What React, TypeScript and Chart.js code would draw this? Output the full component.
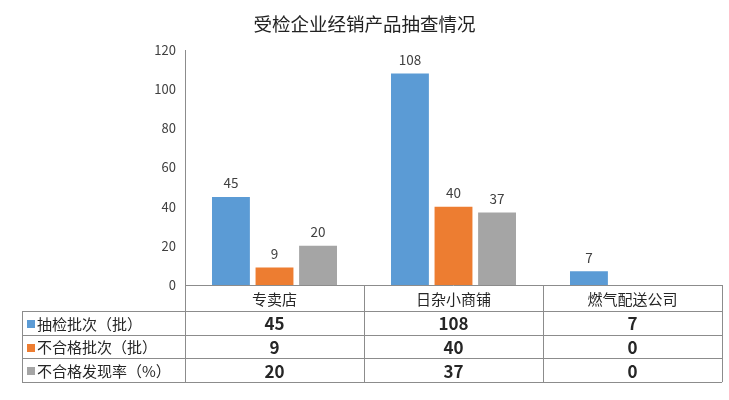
import React, { useEffect, useRef } from 'react';
import { Chart, registerables } from 'chart.js';

Chart.register(...registerables);

const chartTitle = '受检企业经销产品抽查情况';
const categories = ['专卖店', '日杂小商铺', '燃气配送公司'];
const seriesNames = ['抽检批次（批）', '不合格批次（批）', '不合格发现率（%）'];
const sampledBatches = [45, 108, 7];
const failedBatches = [9, 40, 0];
const failRate = [20, 37, 0];
const seriesColors = ['#5B9BD5', '#ED7D31', '#A5A5A5'];
const yMin = 0;
const yMax = 120;
const yStep = 20;

const FONT = '"Noto Sans CJK SC", "Noto Sans", sans-serif';
const LINE = '#8c8c8c';

const crisp = (v: number) => Math.round(v) + 0.5;

const overlayPlugin = {
  id: 'overlayPlugin',
  afterDatasetsDraw(chart: any) {
    const ctx = chart.ctx;
    ctx.save();
    ctx.font = `13.5px ${FONT}`;
    ctx.fillStyle = '#404040';
    ctx.textAlign = 'center';
    ctx.textBaseline = 'bottom';
    chart.data.datasets.forEach((ds: any, di: number) => {
      const meta = chart.getDatasetMeta(di);
      meta.data.forEach((el: any, i: number) => {
        const v = ds.data[i];
        if (!v) return;
        ctx.fillText(String(v), el.x, el.y - 7);
      });
    });
    ctx.restore();
  },
  afterDraw(chart: any) {
    const ctx = chart.ctx;
    const area = chart.chartArea;
    const xs = chart.scales.x;
    const n = categories.length;
    const colW = (area.right - area.left) / n;
    const top = area.bottom;
    const headerH = 26;
    const rowH = 23.7;
    const tableLeft = 22;
    const rowsY = [top, top + headerH];
    for (let r = 1; r <= seriesNames.length; r++) rowsY.push(top + headerH + r * rowH);
    const bottom = rowsY[rowsY.length - 1];

    ctx.save();
    // title
    ctx.fillStyle = '#222222';
    ctx.font = `18.5px ${FONT}`;
    ctx.textAlign = 'center';
    ctx.textBaseline = 'middle';
    ctx.fillText(chartTitle, chart.width / 2, 24);

    // grid lines
    ctx.strokeStyle = LINE;
    ctx.lineWidth = 1;
    ctx.beginPath();
    ctx.moveTo(area.left, crisp(top));
    ctx.lineTo(area.right, crisp(top));
    for (let r = 1; r < rowsY.length; r++) {
      ctx.moveTo(tableLeft, crisp(rowsY[r]));
      ctx.lineTo(area.right, crisp(rowsY[r]));
    }
    ctx.moveTo(crisp(tableLeft), rowsY[1]);
    ctx.lineTo(crisp(tableLeft), bottom);
    for (let i = 0; i <= n; i++) {
      const xb = i < n ? xs.getPixelForValue(i) - colW / 2 : xs.getPixelForValue(n - 1) + colW / 2;
      ctx.moveTo(crisp(xb), top);
      ctx.lineTo(crisp(xb), bottom);
    }
    ctx.stroke();

    // header
    ctx.fillStyle = '#262626';
    ctx.font = `15px ${FONT}`;
    ctx.textAlign = 'center';
    ctx.textBaseline = 'middle';
    categories.forEach((c, i) => {
      ctx.fillText(c, xs.getPixelForValue(i), (rowsY[0] + rowsY[1]) / 2 + 1);
    });

    // rows
    chart.data.datasets.forEach((ds: any, di: number) => {
      const yc = (rowsY[di + 1] + rowsY[di + 2]) / 2 + 1;
      ctx.fillStyle = seriesColors[di];
      ctx.fillRect(tableLeft + 5, Math.round(yc) - 4, 8, 8);
      ctx.fillStyle = '#262626';
      ctx.font = `15px ${FONT}`;
      ctx.textAlign = 'left';
      ctx.fillText(seriesNames[di], tableLeft + 15, yc);
      ctx.font = `bold 17px ${FONT}`;
      ctx.textAlign = 'center';
      ds.data.forEach((v: number, i: number) => {
        ctx.fillText(String(v), xs.getPixelForValue(i), yc);
      });
    });
    ctx.restore();
  },
};

export default function App() {
  const canvasRef = useRef<HTMLCanvasElement | null>(null);

  useEffect(() => {
    if (!canvasRef.current) return;
    const allSeries = [sampledBatches, failedBatches, failRate];
    const chart = new Chart(canvasRef.current, {
      type: 'bar',
      data: {
        labels: categories,
        datasets: allSeries.map((d, i) => ({
          label: seriesNames[i],
          data: d,
          backgroundColor: seriesColors[i],
          borderWidth: 0,
          categoryPercentage: 0.73,
          barPercentage: 0.87,
        })),
      },
      options: {
        responsive: false,
        animation: false,
        devicePixelRatio: 1,
        layout: { padding: { top: 50, right: 7, bottom: 115, left: 0 } },
        plugins: {
          legend: { display: false },
          title: { display: false },
          tooltip: { enabled: false },
        },
        scales: {
          x: {
            grid: { display: false, drawTicks: false },
            ticks: { display: false },
            border: { display: false },
          },
          y: {
            min: yMin,
            max: yMax,
            afterFit: (scale: any) => {
              scale.width = 185;
            },
            ticks: {
              stepSize: yStep,
              padding: 9,
              color: '#404040',
              font: { family: FONT, size: 13 },
            },
            grid: { display: false, drawTicks: false },
            border: { display: true, color: LINE, width: 1 },
          },
        },
      },
      plugins: [overlayPlugin],
    });
    return () => chart.destroy();
  }, []);

  return (
    <div style={{ position: 'absolute', left: 0, top: 0, width: 729, height: 400 }}>
      <canvas ref={canvasRef} width={729} height={400} />
    </div>
  );
}
